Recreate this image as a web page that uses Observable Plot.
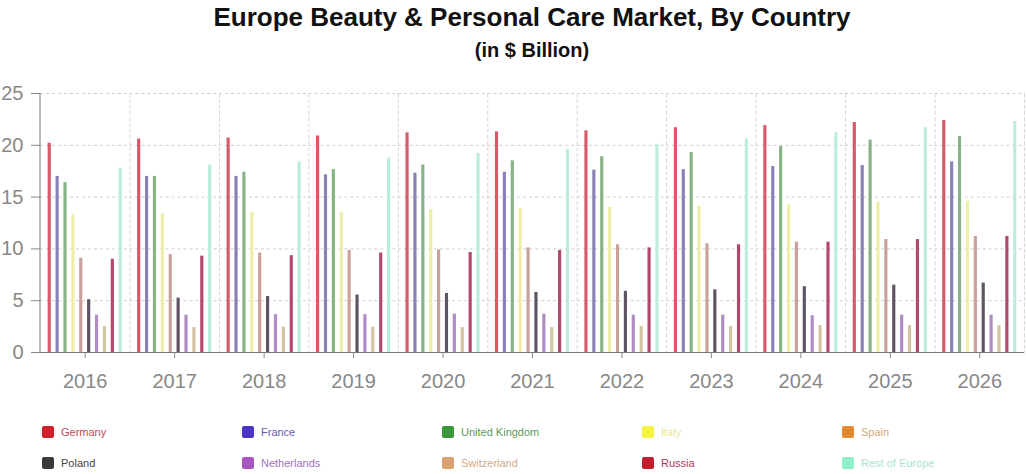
<!DOCTYPE html>
<html>
<head>
<meta charset="utf-8">
<script src="https://cdn.jsdelivr.net/npm/d3@7"></script>
<script src="https://cdn.jsdelivr.net/npm/@observablehq/plot@0.6"></script>
<style>
  html, body { margin: 0; padding: 0; background: #fff; }
  #wrap { position: relative; width: 1026px; height: 474px; font-family: "Liberation Sans", Arial, sans-serif; }
  #title { position: absolute; left: 40px; width: 984px; top: 1px; text-align: center;
    font-family: "Liberation Sans", Arial, sans-serif;
    font-weight: bold; font-size: 26px; line-height: 32px; color: #111; }
  #subtitle { position: absolute; left: 40px; width: 984px; top: 37px; text-align: center;
    font-family: "Liberation Sans", Arial, sans-serif;
    font-weight: bold; font-size: 20px; line-height: 26px; color: #111; }
  #chart { position: absolute; left: 0; top: 70px; }
  #legend { position: absolute; left: 42px; top: 426px; display: grid;
    grid-template-columns: repeat(5, 200px); grid-auto-rows: 31px; font-size: 11px; }
  .item { display: flex; align-items: flex-start; }
  .sw { width: 12px; height: 12px; border-radius: 2px; margin-right: 7px; flex: none; }
  .lb { line-height: 13px; }
</style>
</head>
<body>
<div id="wrap">
  <div id="title"></div>
  <div id="subtitle"></div>
  <div id="chart"></div>
  <div id="legend"></div>
</div>
<script>
const titleText = "Europe Beauty & Personal Care Market, By Country";
const subtitleText = "(in $ Billion)";

const years = ["2016","2017","2018","2019","2020","2021","2022","2023","2024","2025","2026"];
const countries = ["Germany","France","United Kingdom","Italy","Spain","Poland","Netherlands","Switzerland","Russia","Rest of Europe"];

const germany      = [20.2, 20.6, 20.7, 20.9, 21.2, 21.3, 21.4, 21.7, 21.9, 22.2, 22.4];
const france       = [17.0, 17.0, 17.0, 17.15, 17.3, 17.4, 17.6, 17.65, 17.95, 18.05, 18.4];
const unitedKingdom= [16.4, 17.0, 17.4, 17.65, 18.1, 18.5, 18.9, 19.3, 19.9, 20.5, 20.85];
const italy        = [13.3, 13.4, 13.5, 13.5, 13.8, 13.9, 14.0, 14.1, 14.25, 14.5, 14.6];
const spain        = [9.1, 9.45, 9.6, 9.85, 9.9, 10.1, 10.4, 10.5, 10.65, 10.9, 11.2];
const poland       = [5.1, 5.25, 5.4, 5.55, 5.7, 5.8, 5.9, 6.05, 6.35, 6.5, 6.7];
const netherlands  = [3.6, 3.6, 3.65, 3.65, 3.7, 3.7, 3.6, 3.6, 3.55, 3.6, 3.6];
const switzerland  = [2.5, 2.4, 2.45, 2.45, 2.4, 2.4, 2.5, 2.5, 2.6, 2.6, 2.6];
const russia       = [9.0, 9.3, 9.35, 9.6, 9.65, 9.85, 10.1, 10.4, 10.65, 10.9, 11.2];
const restOfEurope = [17.8, 18.1, 18.4, 18.75, 19.2, 19.6, 20.1, 20.6, 21.2, 21.7, 22.3];

const yTicks = [0, 5, 10, 15, 20, 25];

// styles
const barColors    = ["#d65a6a","#8a80b8","#86b486","#eeeea8","#c9a09a","#5e5464","#b08cc4","#d4c4a0","#b44868","#bcece0"];
const legendColors = ["#d0202c","#4a35c8","#3a9a3a","#f4f43c","#e4872e","#3a3a3a","#a855c0","#d9a070","#c41e2e","#8ef0c8"];
const textColors   = ["#c04a58","#6a5ab0","#5a9a5a","#e6e690","#d4a878","#444444","#a070c0","#d4a888","#a83a58","#a8e4cc"];

const series = [germany, france, unitedKingdom, italy, spain, poland, netherlands, switzerland, russia, restOfEurope];
const rows = [];
years.forEach((yr, i) => countries.forEach((c, j) => rows.push({year: yr, country: c, value: series[j][i]})));

document.getElementById("title").textContent = titleText;
document.getElementById("subtitle").textContent = subtitleText;

const mLeft = 40;
const chart = Plot.plot({
  width: 1026, height: 330,
  marginLeft: mLeft, marginRight: 2, marginTop: 23, marginBottom: 48,
  style: {fontFamily: "'Liberation Sans', Arial, sans-serif", background: "white", overflow: "visible"},
  fx: {domain: years, padding: 0, label: null, round: false},
  x: {domain: countries, axis: null, paddingInner: 0.6, paddingOuter: 0.97, round: false},
  y: {domain: [0, 25], label: null},
  color: {domain: countries, range: barColors},
  marks: [
    Plot.gridY({ticks: yTicks, stroke: "#cfcfcf", strokeOpacity: 1, strokeDasharray: "3,3"}),
    Plot.frame({anchor: "right", stroke: "#d8d8d8", strokeDasharray: "3,3"}),
    Plot.barY(rows, {fx: "year", x: "country", y: "value", fill: "country"}),
    Plot.ruleY([0], {stroke: "#777"}),
    Plot.axisY({ticks: yTicks, tickSize: 9, tickPadding: 8, fontSize: 20, color: "#888", label: null}),
    Plot.axisFx({anchor: "bottom", tickSize: 6, tickPadding: 15, fontSize: 20, color: "#888", label: null})
  ]
});
document.getElementById("chart").appendChild(chart);

// y axis line along the left edge of the plot area, from the y scale
const ys = chart.scale("y");
d3.select(chart).append("line")
  .attr("x1", mLeft).attr("x2", mLeft)
  .attr("y1", ys.range[0]).attr("y2", ys.range[1])
  .attr("stroke", "#777");

// legend
const legend = d3.select("#legend");
countries.forEach((c, i) => {
  const it = legend.append("div").attr("class", "item");
  it.append("div").attr("class", "sw").style("background", legendColors[i]);
  it.append("div").attr("class", "lb").style("color", textColors[i]).text(c);
});
</script>
</body>
</html>
